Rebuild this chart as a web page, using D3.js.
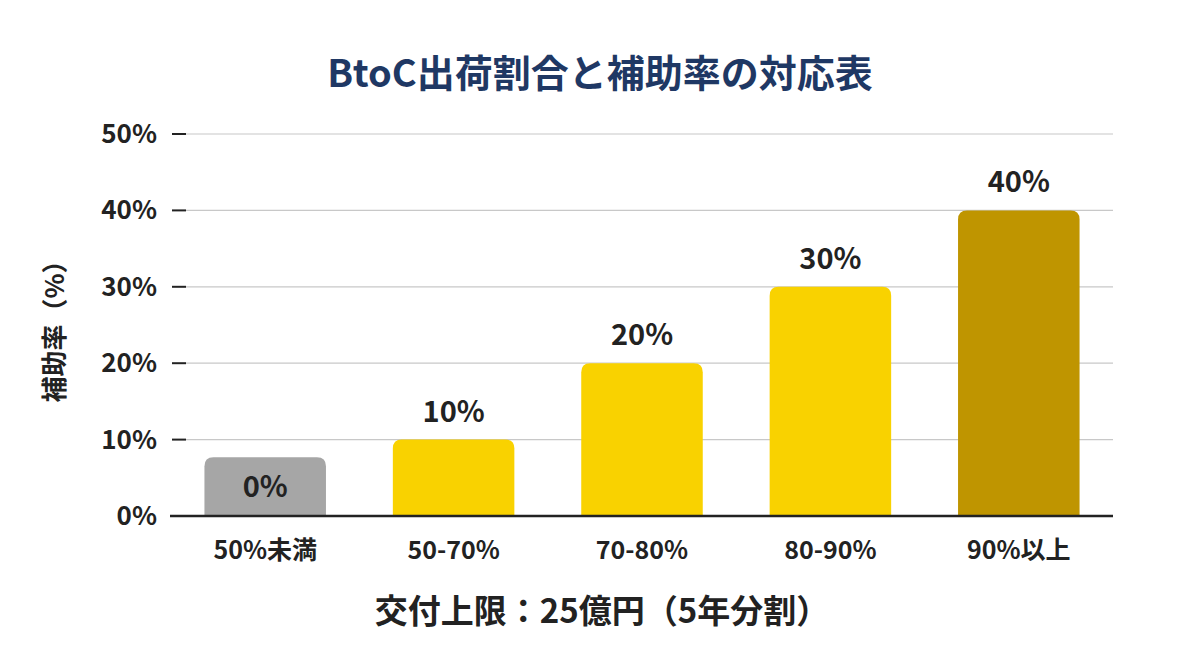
<!DOCTYPE html>
<html><head><meta charset="utf-8">
<script src="https://cdn.jsdelivr.net/npm/d3@7"></script>
<style>body{margin:0;background:#fff;font-family:"Noto Sans CJK JP","Noto Sans",sans-serif;}</style>
</head><body><svg id="chart" width="1200" height="655"></svg>
<script>
var categories = ["50%未満", "50-70%", "70-80%", "80-90%", "90%以上"];
// drawn heights: the first bar is shown as a short grey stub although its rate is 0%
var barHeights = [7.7, 10, 20, 30, 40];
var valueLabels = ["0%", "10%", "20%", "30%", "40%"];
var barColors = ["#a6a6a6", "#f9d200", "#f9d200", "#f9d200", "#bf9500"];
var yTicks = [0, 10, 20, 30, 40, 50];

var svg = d3.select("#chart");
var x = d3.scaleBand().domain(categories).range([171, 1113]).paddingInner(0.355).paddingOuter(0.1775);
var y = d3.scaleLinear().domain([0, 50]).range([516, 134]);

svg.append("text").attr("x", 600).attr("y", 87).attr("text-anchor", "middle")
  .attr("font-size", 38).attr("font-weight", "bold").attr("fill", "#1f3864")
  .text("BtoC出荷割合と補助率の対応表");

// grid
svg.selectAll(".grid").data(yTicks.slice(1)).enter().append("line")
  .attr("x1", 186).attr("x2", 1113).attr("y1", y).attr("y2", y)
  .attr("stroke", "#c8c8c8").attr("stroke-width", 1.2);
svg.selectAll(".tick").data(yTicks).enter().append("line")
  .attr("x1", 172).attr("x2", 186).attr("y1", y).attr("y2", y)
  .attr("stroke", "#222").attr("stroke-width", 2);
svg.selectAll(".tl").data(yTicks).enter().append("text")
  .attr("x", 157).attr("y", function(d) { return y(d) + 9; }).attr("text-anchor", "end")
  .attr("font-size", 26).attr("font-weight", "bold").attr("fill", "#222")
  .text(function(d) { return d + "%"; });

// bars with rounded tops
var r = 9;
svg.selectAll(".bar").data(categories).enter().append("path")
  .attr("fill", function(d, i) { return barColors[i]; })
  .attr("d", function(d, i) {
    var x0 = x(d), w = x.bandwidth(), top = y(barHeights[i]), b = y(0);
    return "M" + x0 + "," + b + "V" + (top + r) + "Q" + x0 + "," + top + " " + (x0 + r) + "," + top +
      "H" + (x0 + w - r) + "Q" + (x0 + w) + "," + top + " " + (x0 + w) + "," + (top + r) + "V" + b + "Z";
  });

svg.selectAll(".vl").data(categories).enter().append("text")
  .attr("x", function(d) { return x(d) + x.bandwidth() / 2; })
  .attr("y", function(d, i) { return i == 0 ? y(barHeights[i]) + 40 : y(barHeights[i]) - 18; })
  .attr("text-anchor", "middle").attr("font-size", 29).attr("font-weight", "bold").attr("fill", "#222")
  .text(function(d, i) { return valueLabels[i]; });

svg.append("line").attr("x1", 170).attr("x2", 1113).attr("y1", y(0)).attr("y2", y(0))
  .attr("stroke", "#222").attr("stroke-width", 2.5);

svg.selectAll(".cl").data(categories).enter().append("text")
  .attr("x", function(d) { return x(d) + x.bandwidth() / 2; }).attr("y", 559)
  .attr("text-anchor", "middle").attr("font-size", 25).attr("font-weight", "bold").attr("fill", "#222")
  .text(function(d) { return d; });

svg.append("text").attr("transform", "translate(64,325) rotate(-90)").attr("text-anchor", "middle")
  .attr("font-size", 26).attr("font-weight", "bold").attr("fill", "#222").text("補助率（%）");

svg.append("text").attr("x", 602).attr("y", 623).attr("text-anchor", "middle")
  .attr("font-size", 33).attr("font-weight", "bold").attr("fill", "#222")
  .text("交付上限：25億円（5年分割）");
</script></body></html>
